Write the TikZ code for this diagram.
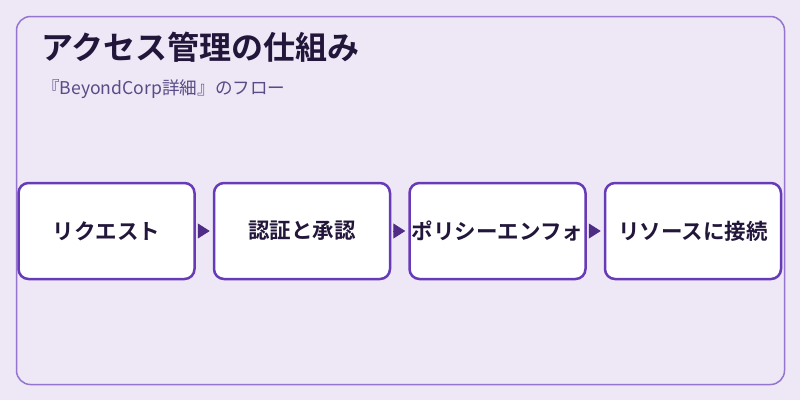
\documentclass[tikz,border=0pt]{standalone}
\usepackage{fontspec}
\setmainfont{Noto Sans CJK JP}[BoldFont={Noto Sans CJK JP Bold}]
\usetikzlibrary{arrows.meta}
\usetikzlibrary{positioning}
\definecolor{bgpurple}{HTML}{EDE7F6}
\definecolor{framepurple}{HTML}{9575CD}
\definecolor{boxpurple}{HTML}{673AB7}
\definecolor{tippurple}{HTML}{4F2C86}
\definecolor{inkdark}{HTML}{22163A}
\definecolor{subink}{HTML}{5A4A86}
\tikzset{
  stepbox/.style={draw=boxpurple, line width=2.5pt, fill=white, rounded corners=10pt,
    minimum width=176pt, minimum height=96pt, inner sep=0pt, text=inkdark,
    font=\fontsize{21.5}{24}\selectfont\bfseries},
  flowtip/.style={-{Triangle[length=12pt,width=15pt]}, draw=tippurple, fill=tippurple,
    line width=1pt, shorten <=2pt, shorten >=3pt}
}

\begin{document}
\begin{tikzpicture}[x=1pt, y=-1pt]
        \fill[bgpurple] (0, 0) rectangle (800, 400);
        \useasboundingbox (0, 0) rectangle (800, 400);
        \draw[framepurple, line width=1.5pt, rounded corners=14pt] (16.5, 16.5) rectangle (784.5, 384.5);
        \node[anchor=west, inner sep=0pt, text=inkdark, font=\fontsize{32}{36}\selectfont\bfseries] (title) at (41, 47.5) {アクセス管理の仕組み};
        \node[anchor=west, inner sep=0pt, text=subink, font=\fontsize{17.6}{20}\selectfont] (subtitle) at (42, 89) {『BeyondCorp詳細』のフロー};
        \node[stepbox] (request) at (106.5, 231) {リクエスト};
        \node[stepbox, right=17pt of request] (authz) {認証と承認};
        \node[stepbox, right=17pt of authz] (policy) {ポリシーエンフォ};
        \node[stepbox, right=17pt of policy] (resource) {リソースに接続};
        \draw[flowtip] (request) -- (authz);
        \draw[flowtip] (authz) -- (policy);
        \draw[flowtip] (policy) -- (resource);
      \end{tikzpicture}
\end{document}
